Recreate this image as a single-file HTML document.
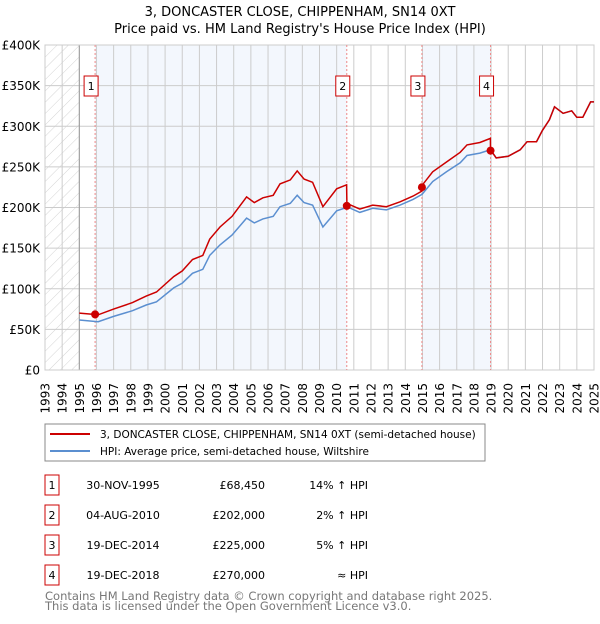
<!DOCTYPE html>
<html><head><meta charset="utf-8"><style>
body{margin:0;background:#fff;font-family:"DejaVu Sans","Liberation Sans",sans-serif;}
svg text{font-family:"DejaVu Sans","Liberation Sans",sans-serif;}
</style></head><body>
<svg id="c" width="600" height="620" xmlns="http://www.w3.org/2000/svg">
<defs><pattern id="hatch" width="8" height="8" patternUnits="userSpaceOnUse" patternTransform="rotate(45)"><line x1="0" y1="0" x2="0" y2="8" stroke="#d4d4d4" stroke-width="1"/></pattern></defs>
<text x="300" y="16" text-anchor="middle" font-size="13">3, DONCASTER CLOSE, CHIPPENHAM, SN14 0XT</text>
<text x="300" y="33" text-anchor="middle" font-size="13">Price paid vs. HM Land Registry's House Price Index (HPI)</text>
<g id="plot"></g>
<rect x="45" y="424" width="440" height="37" fill="#fff" stroke="#888"/>
<line x1="50" y1="434" x2="90" y2="434" stroke="#cc0000" stroke-width="2"/>
<text x="100" y="438" font-size="10.5">3, DONCASTER CLOSE, CHIPPENHAM, SN14 0XT (semi-detached house)</text>
<line x1="50" y1="451" x2="90" y2="451" stroke="#5b8fd0" stroke-width="2"/>
<text x="100" y="455" font-size="10.5">HPI: Average price, semi-detached house, Wiltshire</text>
<g id="table" font-size="11"></g>
<text x="45" y="600" font-size="11.5" fill="#777">Contains HM Land Registry data © Crown copyright and database right 2025.</text>
<text x="45" y="610" font-size="11.5" fill="#777">This data is licensed under the Open Government Licence v3.0.</text>
</svg>
<script>
const years=[1995,1996.1,1997,1998.1,1998.9,1999.5,2000.5,2001,2001.6,2002.2,2002.6,2003.2,2003.9,2004.75,2005.2,2005.7,2006.3,2006.7,2007.3,2007.7,2008.1,2008.6,2009.2,2010,2010.58,2010.6,2011.35,2012.1,2012.9,2013.7,2014.45,2014.96,2014.97,2015.6,2016.4,2017.2,2017.6,2018.35,2018.96,2018.97,2019.3,2020,2020.7,2021.1,2021.65,2022,2022.4,2022.7,2023.2,2023.7,2024,2024.35,2024.8,2025];
const hpiValues=[61.5,59.5,66,73,80,84,101,107,119,124,141,154,166,187,181,186,189,201,205,215,206,203,176,196,200,201,194,199,197,203,210,216,216,232,244,255,264,267,271,271,261,263,271,281,281,295,308,324,316,319,311,311,330,330];
const priceValues=[70,68,75,83,91,96,115,122,136,141,161,176,189,213,206,212,215,229,234,245,235,231,201,223,228,205,198,203,201,207,214,220,227,244,256,268,277,280,285,271,261,263,271,281,281,295,308,324,316,319,311,311,330,330];
const saleYears=[1995.92,2010.59,2014.97,2018.97];
const salePrices=[68.45,202,225,270];
const saleDates=["30-NOV-1995","04-AUG-2010","19-DEC-2014","19-DEC-2018"];
const saleLabels=["£68,450","£202,000","£225,000","£270,000"];
const saleDiffs=["14% \u2191 HPI","2% \u2191 HPI","5% \u2191 HPI","\u2248 HPI"];
const yTicks=[0,50,100,150,200,250,300,350,400];
const yTickLabels=["£0","£50K","£100K","£150K","£200K","£250K","£300K","£350K","£400K"];
const xTicks=[];for(let y=1993;y<=2025;y++)xTicks.push(y);

const L=45,R=594,T=45,B=370,X0=1993,X1=2025,YMAX=400;
const xs=v=>L+(v-X0)/(X1-X0)*(R-L);
const ys=v=>B-v/YMAX*(B-T);
const NS="http://www.w3.org/2000/svg";
const g=document.getElementById('plot');
function mk(tag,attrs,parent){const e=document.createElementNS(NS,tag);for(const k in attrs)e.setAttribute(k,attrs[k]);(parent||g).appendChild(e);return e;}

let e=mk('rect',{x:L,y:T,width:R-L,height:B-T,fill:'#fff'});


e=mk('rect',{x:L,y:T,width:xs(1995)-L,height:B-T,fill:'url(#hatch)'});


for(const [a,b] of [[0,1],[2,3]]){
  e=mk('rect',{x:xs(saleYears[a]),y:T,width:xs(saleYears[b])-xs(saleYears[a]),height:B-T,fill:'#eef3fc',opacity:0.7});
  
  
}
xTicks.forEach(y=>{
  e=mk('line',{x1:xs(y),x2:xs(y),y1:T,y2:B,stroke:'#ccc'});
  
  
  e=mk('text',{x:0,y:0,'font-size':12,'text-anchor':'end',transform:`translate(${xs(y)+4.5},383) rotate(-90)`});
  e.textContent=y;
  
  
});
yTicks.forEach((v,i)=>{
  e=mk('line',{x1:L,x2:R,y1:ys(v),y2:ys(v),stroke:'#ccc'});
  
  
  e=mk('text',{x:40,y:ys(v)+4.5,'font-size':12,'text-anchor':'end'});
  e.textContent=yTickLabels[i];
  
  
});
e=mk('line',{x1:xs(1995),x2:xs(1995),y1:T,y2:B,stroke:'#999'});


e=mk('rect',{x:L,y:T,width:R-L,height:B-T,fill:'none',stroke:'#ccc'});


saleYears.forEach((s,i)=>{
  e=mk('line',{x1:xs(s),x2:xs(s),y1:T,y2:B,stroke:'#e88',"stroke-dasharray":'2,2'});
  
  
});
const pts=(arr)=>years.map((y,i)=>xs(y).toFixed(1)+','+ys(arr[i]).toFixed(1)).join(' ');
e=mk('polyline',{points:pts(hpiValues),fill:'none',stroke:'#5b8fd0','stroke-width':1.5});


e=mk('polyline',{points:pts(priceValues),fill:'none',stroke:'#cc0000','stroke-width':1.5});


saleYears.forEach((s,i)=>{
  e=mk('circle',{cx:xs(s),cy:ys(salePrices[i]),r:4,fill:'#cc0000'});
  
  
  e=mk('rect',{x:xs(s)-11,y:76,width:14,height:20,fill:'#fff',stroke:'#cc0000'});
  
  
  e=mk('text',{x:xs(s)-4,y:90,'font-size':11,'text-anchor':'middle'});
  e.textContent=i+1;
  
  
});
const tb=document.getElementById('table');
saleDates.forEach((d,i)=>{
  const cy=483+i*30;
  e=mk('rect',{x:45,y:cy-8,width:14,height:20,fill:'#fff',stroke:'#cc0000'},tb);
  
  
  e=mk('text',{x:52,y:cy+6,'text-anchor':'middle'},tb);e.textContent=i+1;
  
  
  e=mk('text',{x:123,y:cy+6,'text-anchor':'middle'},tb);e.textContent=d;
  
  
  e=mk('text',{x:265,y:cy+6,'text-anchor':'end'},tb);e.textContent=saleLabels[i];
  
  
  e=mk('text',{x:368,y:cy+6,'text-anchor':'end'},tb);e.textContent=saleDiffs[i];
  
  
});
</script>
</body></html>
